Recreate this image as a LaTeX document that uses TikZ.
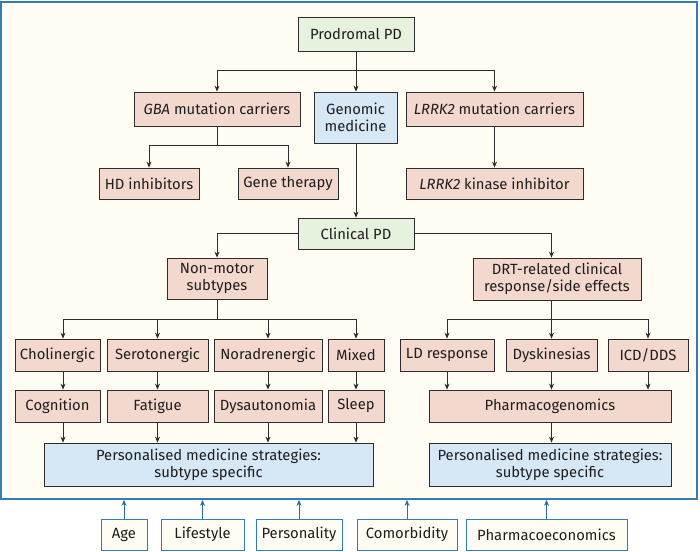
\documentclass[tikz,border=0pt]{standalone}
\usepackage{fontspec}
\setmainfont{Fira Sans}
\usetikzlibrary{arrows.meta}
\definecolor{pinkfill}{RGB}{243,216,206}
\definecolor{greenfill}{RGB}{230,241,222}
\definecolor{bluefill}{RGB}{214,231,246}
\definecolor{cream}{RGB}{255,252,243}
\definecolor{framecol}{RGB}{52,124,180}
\definecolor{arrowblue}{RGB}{40,110,170}
\definecolor{linegray}{RGB}{45,45,45}
\definecolor{textcol}{RGB}{30,30,30}
\begin{document}
\begin{tikzpicture}[x=1pt,y=-1pt,
  every node/.style={font=\fontsize{14.8}{17}\selectfont, text=textcol},
  box/.style={draw=linegray, line width=0.8pt, align=center, inner sep=0pt},
  pinkbox/.style={box, fill=pinkfill},
  greenbox/.style={box, fill=greenfill},
  bluebox/.style={box, fill=bluefill},
  factorbox/.style={draw=framecol, line width=0.8pt, fill=cream, align=center, inner sep=0pt},
  outerframe/.style={draw=framecol, line width=1.8pt, fill=cream, inner sep=0pt},
  ln/.style={draw=linegray, line width=0.8pt},
  arr/.style={draw=linegray, line width=0.8pt, -{Stealth[length=6pt,width=5pt]}},
  barr/.style={draw=arrowblue, line width=0.8pt, -{Stealth[length=6pt,width=5pt]}}]
\useasboundingbox (0,0) rectangle (700,551);
\fill[white] (0,0) rectangle (700,551);
\node[outerframe, minimum width=696pt, minimum height=497pt] (frame) at (349,250.5) {};

% column coordinates
\coordinate (ytop) at (0,70);
\coordinate (ygba) at (0,145);
\coordinate (yrow) at (0,319);
\coordinate (xch) at (63,0);

% top part
\node[greenbox, minimum width=116pt, minimum height=34pt] (prod) at (356,34) {Prodromal PD};
\node[pinkbox, minimum width=166pt, minimum height=34pt] (gba) at (217,109) {\textit{GBA} mutation carriers};
\node[bluebox, minimum width=83pt, minimum height=51pt] (gen) at (355.5,117.5) {Genomic\\medicine};
\node[pinkbox, minimum width=177pt, minimum height=34pt] (lrrk) at (494.5,109) {\textit{LRRK2} mutation carriers};
\node[pinkbox, minimum width=100pt, minimum height=31pt] (hd) at (149,183.5) {HD inhibitors};
\node[pinkbox, minimum width=100pt, minimum height=31pt] (gene) at (288,183.5) {Gene therapy};
\node[pinkbox, minimum width=177pt, minimum height=31pt] (kin) at (494.5,183.5) {\textit{LRRK2} kinase inhibitor};
\node[greenbox, minimum width=116pt, minimum height=31pt] (clin) at (356,233.5) {Clinical PD};

% middle
\node[pinkbox, minimum width=100pt, minimum height=41pt] (nonmotor) at (217,278.5) {Non-motor\\subtypes};
\node[pinkbox, minimum width=168pt, minimum height=42pt] (drt) at (557,279) {DRT-related clinical\\response/side effects};

\node[pinkbox, minimum width=85pt, minimum height=32pt] (chol) at (57.5,355) {Cholinergic};
\node[pinkbox, minimum width=101pt, minimum height=32pt] (sero) at (157.5,355) {Serotonergic};
\node[pinkbox, minimum width=108pt, minimum height=32pt] (nora) at (268,355) {Noradrenergic};
\node[pinkbox, minimum width=56pt, minimum height=32pt] (mixed) at (356,355) {Mixed};
\node[pinkbox, minimum width=94pt, minimum height=32pt] (ld) at (447,355) {LD response};
\node[pinkbox, minimum width=91pt, minimum height=32pt] (dysk) at (551.5,355) {Dyskinesias};
\node[pinkbox, minimum width=80pt, minimum height=32pt] (icd) at (648,355) {ICD/DDS};

\node[pinkbox, minimum width=85pt, minimum height=32pt] (cog) at (57.5,406) {Cognition};
\node[pinkbox, minimum width=101pt, minimum height=32pt] (fat) at (157.5,406) {Fatigue};
\node[pinkbox, minimum width=108pt, minimum height=32pt] (dysa) at (268,406) {Dysautonomia};
\node[pinkbox, minimum width=56pt, minimum height=32pt] (sleep) at (356,406) {Sleep};
\node[pinkbox, minimum width=242pt, minimum height=32pt] (pharm) at (550,406) {Pharmacogenomics};

\node[bluebox, minimum width=329pt, minimum height=43pt] (pers1) at (208.5,464.5) {Personalised medicine strategies:\\subtype specific};
\node[bluebox, minimum width=242pt, minimum height=43pt] (pers2) at (550,464.5) {Personalised medicine strategies:\\subtype specific};

% factors
\node[factorbox, minimum width=46pt, minimum height=31pt] (age) at (124,534.5) {Age};
\node[factorbox, minimum width=83pt, minimum height=31pt] (life) at (202.5,534.5) {Lifestyle};
\node[factorbox, minimum width=86pt, minimum height=31pt] (perso) at (299,534.5) {Personality};
\node[factorbox, minimum width=100pt, minimum height=31pt] (como) at (407,534.5) {Comorbidity};
\node[factorbox, minimum width=161pt, minimum height=31pt] (phe) at (546.5,534.5) {Pharmacoeconomics};

% connectors: top
\draw[arr] (prod.south) -- (prod.south |- gen.north);
\draw[ln] (ytop -| gba.north) -- (ytop -| lrrk.north);
\draw[arr] (ytop -| gba.north) -- (gba.north);
\draw[arr] (ytop -| lrrk.north) -- (lrrk.north);
\draw[ln] (gba.south) -- (gba.south |- ygba);
\draw[ln] (ygba -| hd.north) -- (ygba -| gene.north);
\draw[arr] (ygba -| hd.north) -- (hd.north);
\draw[arr] (ygba -| gene.north) -- (gene.north);
\draw[arr] (lrrk.south) -- (kin.north);
\draw[arr] (prod.south |- gen.south) -- (prod.south |- clin.north);

% clinical
\draw[arr] (clin.west) -| (nonmotor.north);
\draw[arr] (clin.east) -| (drt.north -| dysk.north);

% non-motor branch
\draw[ln] (nonmotor.south) -- (nonmotor.south |- yrow);
\draw[ln] (yrow -| xch) -- (yrow -| mixed.north);
\draw[arr] (yrow -| xch) -- (chol.north -| xch);
\draw[arr] (yrow -| sero.north) -- (sero.north);
\draw[arr] (yrow -| nora.north) -- (nora.north);
\draw[arr] (yrow -| mixed.north) -- (mixed.north);

% DRT branch
\draw[ln] (drt.south -| dysk.north) -- (yrow -| dysk.north);
\draw[ln] (yrow -| ld.north) -- (yrow -| icd.north);
\draw[arr] (yrow -| ld.north) -- (ld.north);
\draw[arr] (yrow -| dysk.north) -- (dysk.north);
\draw[arr] (yrow -| icd.north) -- (icd.north);

% row 1 to row 2
\draw[arr] (chol.south -| xch) -- (cog.north -| xch);
\draw[arr] (sero.south) -- (fat.north);
\draw[arr] (nora.south) -- (dysa.north);
\draw[arr] (mixed.south) -- (sleep.north);
\draw[arr] (ld.south) -- (ld.south |- pharm.north);
\draw[arr] (dysk.south) -- (dysk.south |- pharm.north);
\draw[arr] (icd.south) -- (icd.south |- pharm.north);

% row 2 to personalised
\draw[arr] (cog.south -| xch) -- (pers1.north -| xch);
\draw[arr] (fat.south) -- (fat.south |- pers1.north);
\draw[arr] (dysa.south) -- (dysa.south |- pers1.north);
\draw[arr] (sleep.south) -- (sleep.south |- pers1.north);
\draw[arr] (pharm.south -| dysk.south) -- (pers2.north -| dysk.south);

% factors to frame
\draw[barr] (age.north) -- (age.north |- frame.south);
\draw[barr] (life.north) -- (life.north |- frame.south);
\draw[barr] (perso.north) -- (perso.north |- frame.south);
\draw[barr] (como.north) -- (como.north |- frame.south);
\draw[barr] (phe.north) -- (phe.north |- frame.south);
\end{tikzpicture}
\end{document}
